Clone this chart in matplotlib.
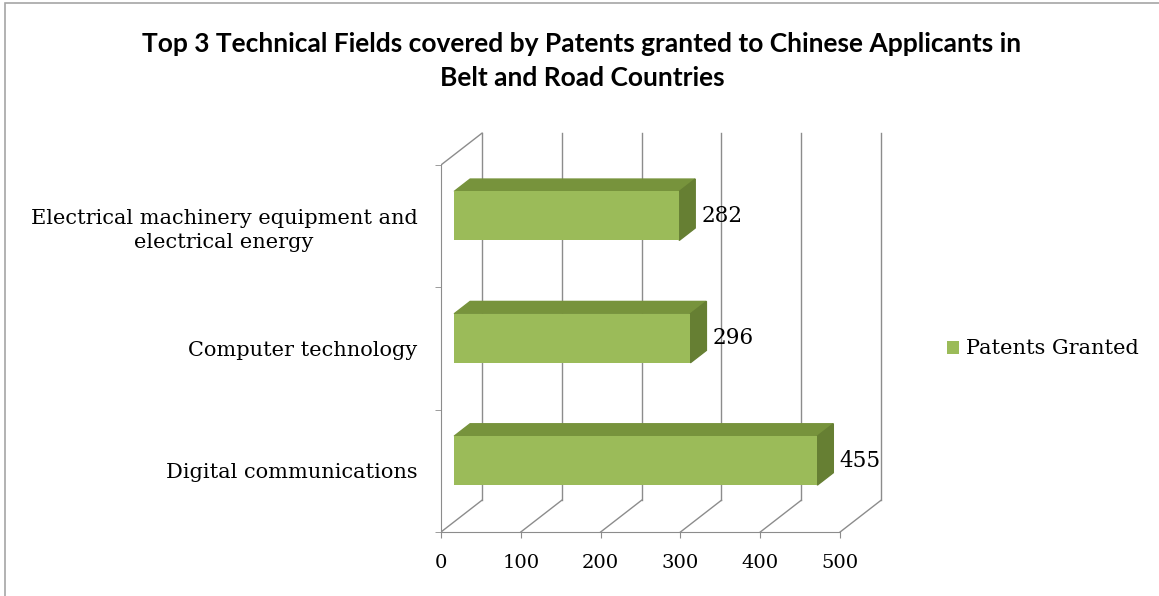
import numpy as np
import matplotlib.pyplot as plt
from matplotlib.patches import Polygon, Rectangle

# data (bottom to top, as drawn)
categories = ["Digital communications", "Computer technology",
              "Electrical machinery equipment and\nelectrical energy"]
patents = [455, 296, 282]
x_ticks = [0, 100, 200, 300, 400, 500]
series_name = "Patents Granted"

title = ("Top 3 Technical Fields covered by Patents granted to Chinese Applicants in\n"
         "Belt and Road Countries")

# colours
front_c = "#9BBB59"
top_c = "#77933C"
side_c = "#667F33"
grid_c = "#8C8C8C"

# fake 3D depth (data units)
DX, DY = 51.4, 0.26
f0, f1 = 0.32, 0.71
bar_h = 0.40

fig = plt.figure(figsize=(11.59, 5.96), dpi=100)
ax = fig.add_axes([441 / 1159, 1 - 532 / 596, 447 / 1159, 416 / 596])
ax.set_xlim(0, 560)
ax.set_ylim(0, 3.4)

# back wall + floor grid
for x in x_ticks:
    ax.plot([x + DX, x + DX], [DY, 3 + DY], color=grid_c, lw=1, zorder=1)
    ax.plot([x, x + DX], [0, DY], color=grid_c, lw=1, zorder=1)
ax.plot([0, DX], [3, 3 + DY], color=grid_c, lw=1, zorder=1)

centers = np.arange(len(categories)) + 0.5
bars = ax.barh(centers + f0 * DY, patents, height=bar_h, left=f0 * DX,
               color=front_c, zorder=3, label=series_name)

for c, v in zip(centers, patents):
    b, t = c - bar_h / 2, c + bar_h / 2
    top = [(f0 * DX, t + f0 * DY), (v + f0 * DX, t + f0 * DY),
           (v + f1 * DX, t + f1 * DY), (f1 * DX, t + f1 * DY)]
    side = [(v + f0 * DX, b + f0 * DY), (v + f1 * DX, b + f1 * DY),
            (v + f1 * DX, t + f1 * DY), (v + f0 * DX, t + f0 * DY)]
    ax.add_patch(Polygon(top, closed=True, color=top_c, zorder=2))
    ax.add_patch(Polygon(side, closed=True, color=side_c, zorder=2))
    ax.text(v + f0 * DX + 28, c + f0 * DY, str(v), fontsize=15.5,
            family="DejaVu Serif", va="center", ha="left", zorder=4)

# axes styling
for s in ["top", "right"]:
    ax.spines[s].set_visible(False)
ax.spines["left"].set_bounds(0, 3)
ax.spines["bottom"].set_bounds(0, 500)
for s in ["left", "bottom"]:
    ax.spines[s].set_color(grid_c)

ax.set_xticks(x_ticks)
ax.set_xticklabels([str(x) for x in x_ticks], fontsize=14, family="DejaVu Serif")
ax.tick_params(axis="x", length=4, color=grid_c, pad=12)

ax.set_yticks(centers)
ax.set_yticklabels(categories, fontsize=15, family="DejaVu Serif")
ax.set_yticks([0, 1, 2, 3], minor=True)
ax.tick_params(axis="y", which="major", length=0, pad=17)
ax.tick_params(axis="y", which="minor", length=4, color=grid_c)
for lab in ax.get_yticklabels():
    lab.set_multialignment("center")
    lab.set_linespacing(1.3)

fig.text(582 / 1159, 1 - 61 / 596, title, ha="center", va="center",
         fontsize=19, fontweight="bold", family="Lato", linespacing=1.45)

fig.legend(handles=[bars], labels=[series_name], loc="center left",
           bbox_to_anchor=(928 / 1159, 1 - 349 / 596), frameon=False,
           prop={"family": "DejaVu Serif", "size": 15},
           handlelength=0.6, handleheight=0.6, handletextpad=0.3)

fig.patches.append(Rectangle((5 / 1159, -0.05), 1.1, 1 - 3 / 596 + 0.05,
                             transform=fig.transFigure, fill=False,
                             edgecolor="#A6A6A6", lw=1.2))

fig.savefig("out.png", dpi=100)
